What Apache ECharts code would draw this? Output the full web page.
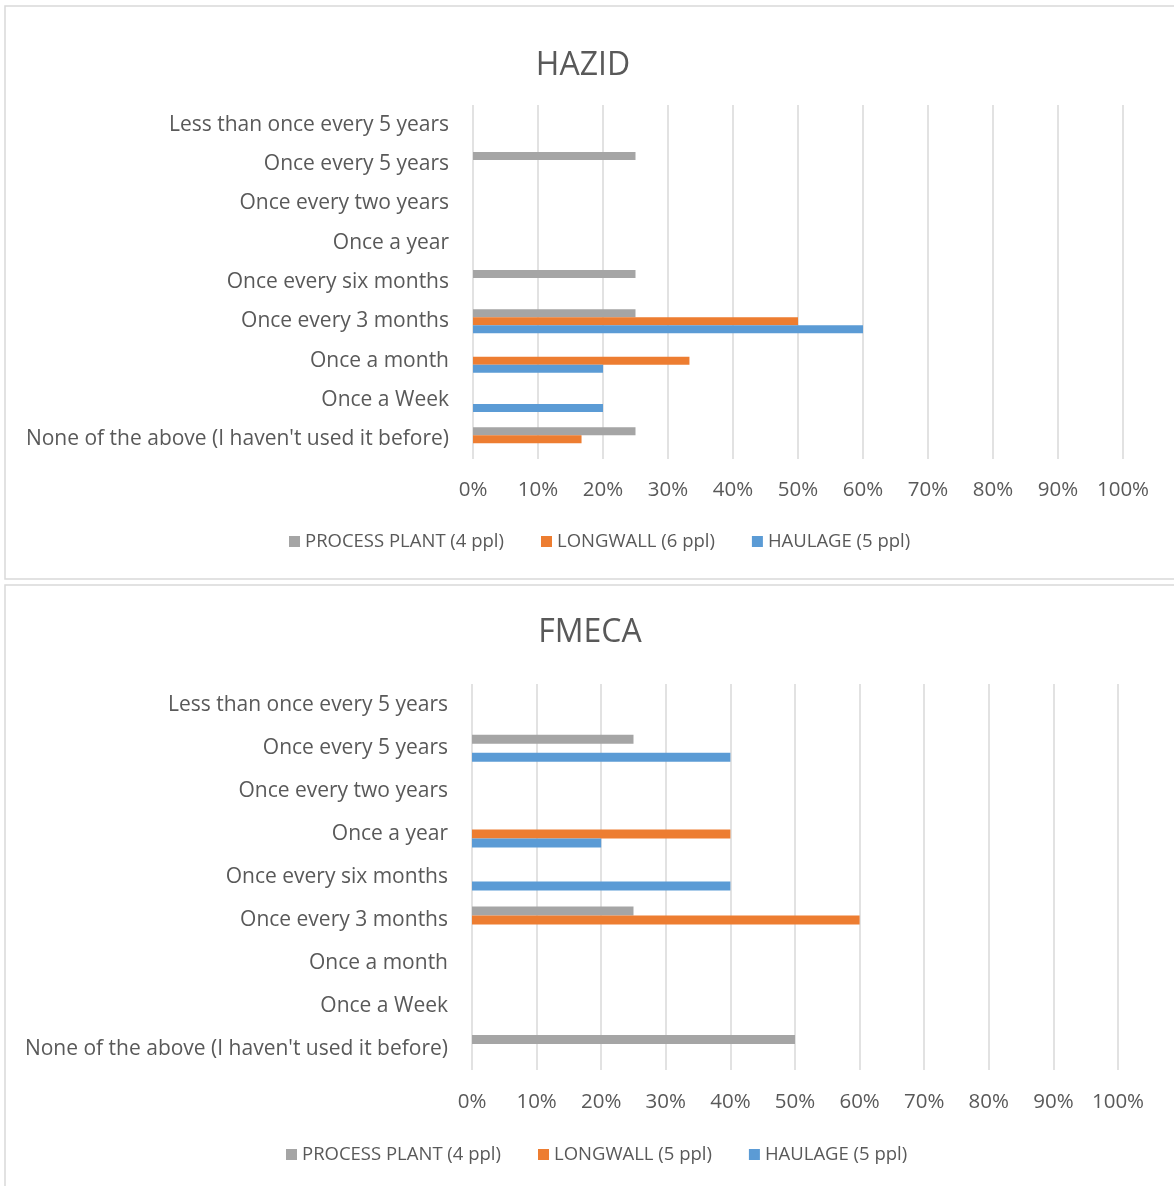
<!DOCTYPE html>
<html>
<head>
<meta charset="utf-8">
<script src="https://cdn.jsdelivr.net/npm/echarts@6/dist/echarts.min.js"></script>
<style>
  html, body { margin: 0; padding: 0; background: #fff; }
  #main { width: 1174px; height: 1186px; }
</style>
</head>
<body>
<div id="main"></div>
<script>
// categories, top to bottom
var categories = [
    'Less than once every 5 years',
    'Once every 5 years',
    'Once every two years',
    'Once a year',
    'Once every six months',
    'Once every 3 months',
    'Once a month',
    'Once a Week',
    "None of the above (I haven't used it before)"
];

// HAZID (%)
var hazidNames = ['PROCESS PLANT (4 ppl)', 'LONGWALL (6 ppl)', 'HAULAGE (5 ppl)'];
var hazidProcess = [0, 25, 0, 0, 25, 25, 0, 0, 25];
var hazidLongwall = [0, 0, 0, 0, 0, 50, 33.3, 0, 16.7];
var hazidHaulage = [0, 0, 0, 0, 0, 60, 20, 20, 0];

// FMECA (%)
var fmecaNames = ['PROCESS PLANT (4 ppl)', 'LONGWALL (5 ppl)', 'HAULAGE (5 ppl)'];
var fmecaProcess = [0, 25, 0, 0, 0, 25, 0, 0, 50];
var fmecaLongwall = [0, 0, 0, 40, 0, 60, 0, 0, 0];
var fmecaHaulage = [0, 40, 0, 20, 40, 0, 0, 0, 0];

var colors = ['#a5a5a5', '#ed7d31', '#5b9bd5'];
var fontFam = 'Open Sans';
var textCol = '#595959';

var chart = echarts.init(document.getElementById('main'));

function xAxisOpt(gridIndex, margin) {
    return {
        type: 'value',
        gridIndex: gridIndex,
        min: 0,
        max: 100,
        interval: 10,
        axisLine: { show: false },
        axisTick: { show: false },
        axisLabel: { formatter: '{value}%', color: textCol, fontSize: 20.5, fontFamily: fontFam, margin: margin },
        splitLine: { show: true, lineStyle: { color: '#d9d9d9', width: 1.5 } }
    };
}

function yAxisOpt(gridIndex) {
    return {
        type: 'category',
        gridIndex: gridIndex,
        inverse: true,
        data: categories,
        axisLine: { show: false },
        axisTick: { show: false },
        axisLabel: { color: textCol, fontSize: 21, fontFamily: fontFam, margin: 24 }
    };
}

function barSeries(name, data, idx, colorIdx, barW) {
    return {
        name: name,
        type: 'bar',
        xAxisIndex: idx,
        yAxisIndex: idx,
        data: data,
        barWidth: barW,
        barGap: '0%',
        itemStyle: { color: colors[colorIdx] }
    };
}

var option = {
    animation: false,
    color: colors,
    title: [
        { text: 'HAZID', left: 578, top: 45, textAlign: 'center',
          textStyle: { color: textCol, fontSize: 32, fontWeight: 'normal', fontFamily: fontFam } },
        { text: 'FMECA', left: 585, top: 612, textAlign: 'center',
          textStyle: { color: textCol, fontSize: 32, fontWeight: 'normal', fontFamily: fontFam } }
    ],
    legend: [
        { data: hazidNames, left: 284, top: 527, itemWidth: 11, itemHeight: 11, itemGap: 37,
          icon: 'rect', textStyle: { color: textCol, fontSize: 18.5, fontFamily: fontFam } },
        { data: fmecaNames, left: 281, top: 1140, itemWidth: 11, itemHeight: 11, itemGap: 37,
          icon: 'rect', textStyle: { color: textCol, fontSize: 18.5, fontFamily: fontFam } }
    ],
    grid: [
        { left: 473, top: 105, width: 650, height: 354 },
        { left: 472, top: 684, width: 646, height: 386 }
    ],
    xAxis: [xAxisOpt(0, 21), xAxisOpt(1, 22)],
    yAxis: [yAxisOpt(0), yAxisOpt(1)],
    graphic: [
        { type: 'rect', shape: { x: 5, y: 6, width: 1180, height: 573 },
          style: { fill: null, stroke: '#d9d9d9', lineWidth: 1.5 }, silent: true },
        { type: 'rect', shape: { x: 5, y: 585, width: 1180, height: 620 },
          style: { fill: null, stroke: '#d9d9d9', lineWidth: 1.5 }, silent: true }
    ],
    series: [
        barSeries(hazidNames[0], hazidProcess, 0, 0, 8),
        barSeries(hazidNames[1], hazidLongwall, 0, 1, 8),
        barSeries(hazidNames[2], hazidHaulage, 0, 2, 8),
        barSeries(fmecaNames[0], fmecaProcess, 1, 0, 9),
        barSeries(fmecaNames[1], fmecaLongwall, 1, 1, 9),
        barSeries(fmecaNames[2], fmecaHaulage, 1, 2, 9)
    ]
};

chart.setOption(option);
</script>
</body>
</html>
